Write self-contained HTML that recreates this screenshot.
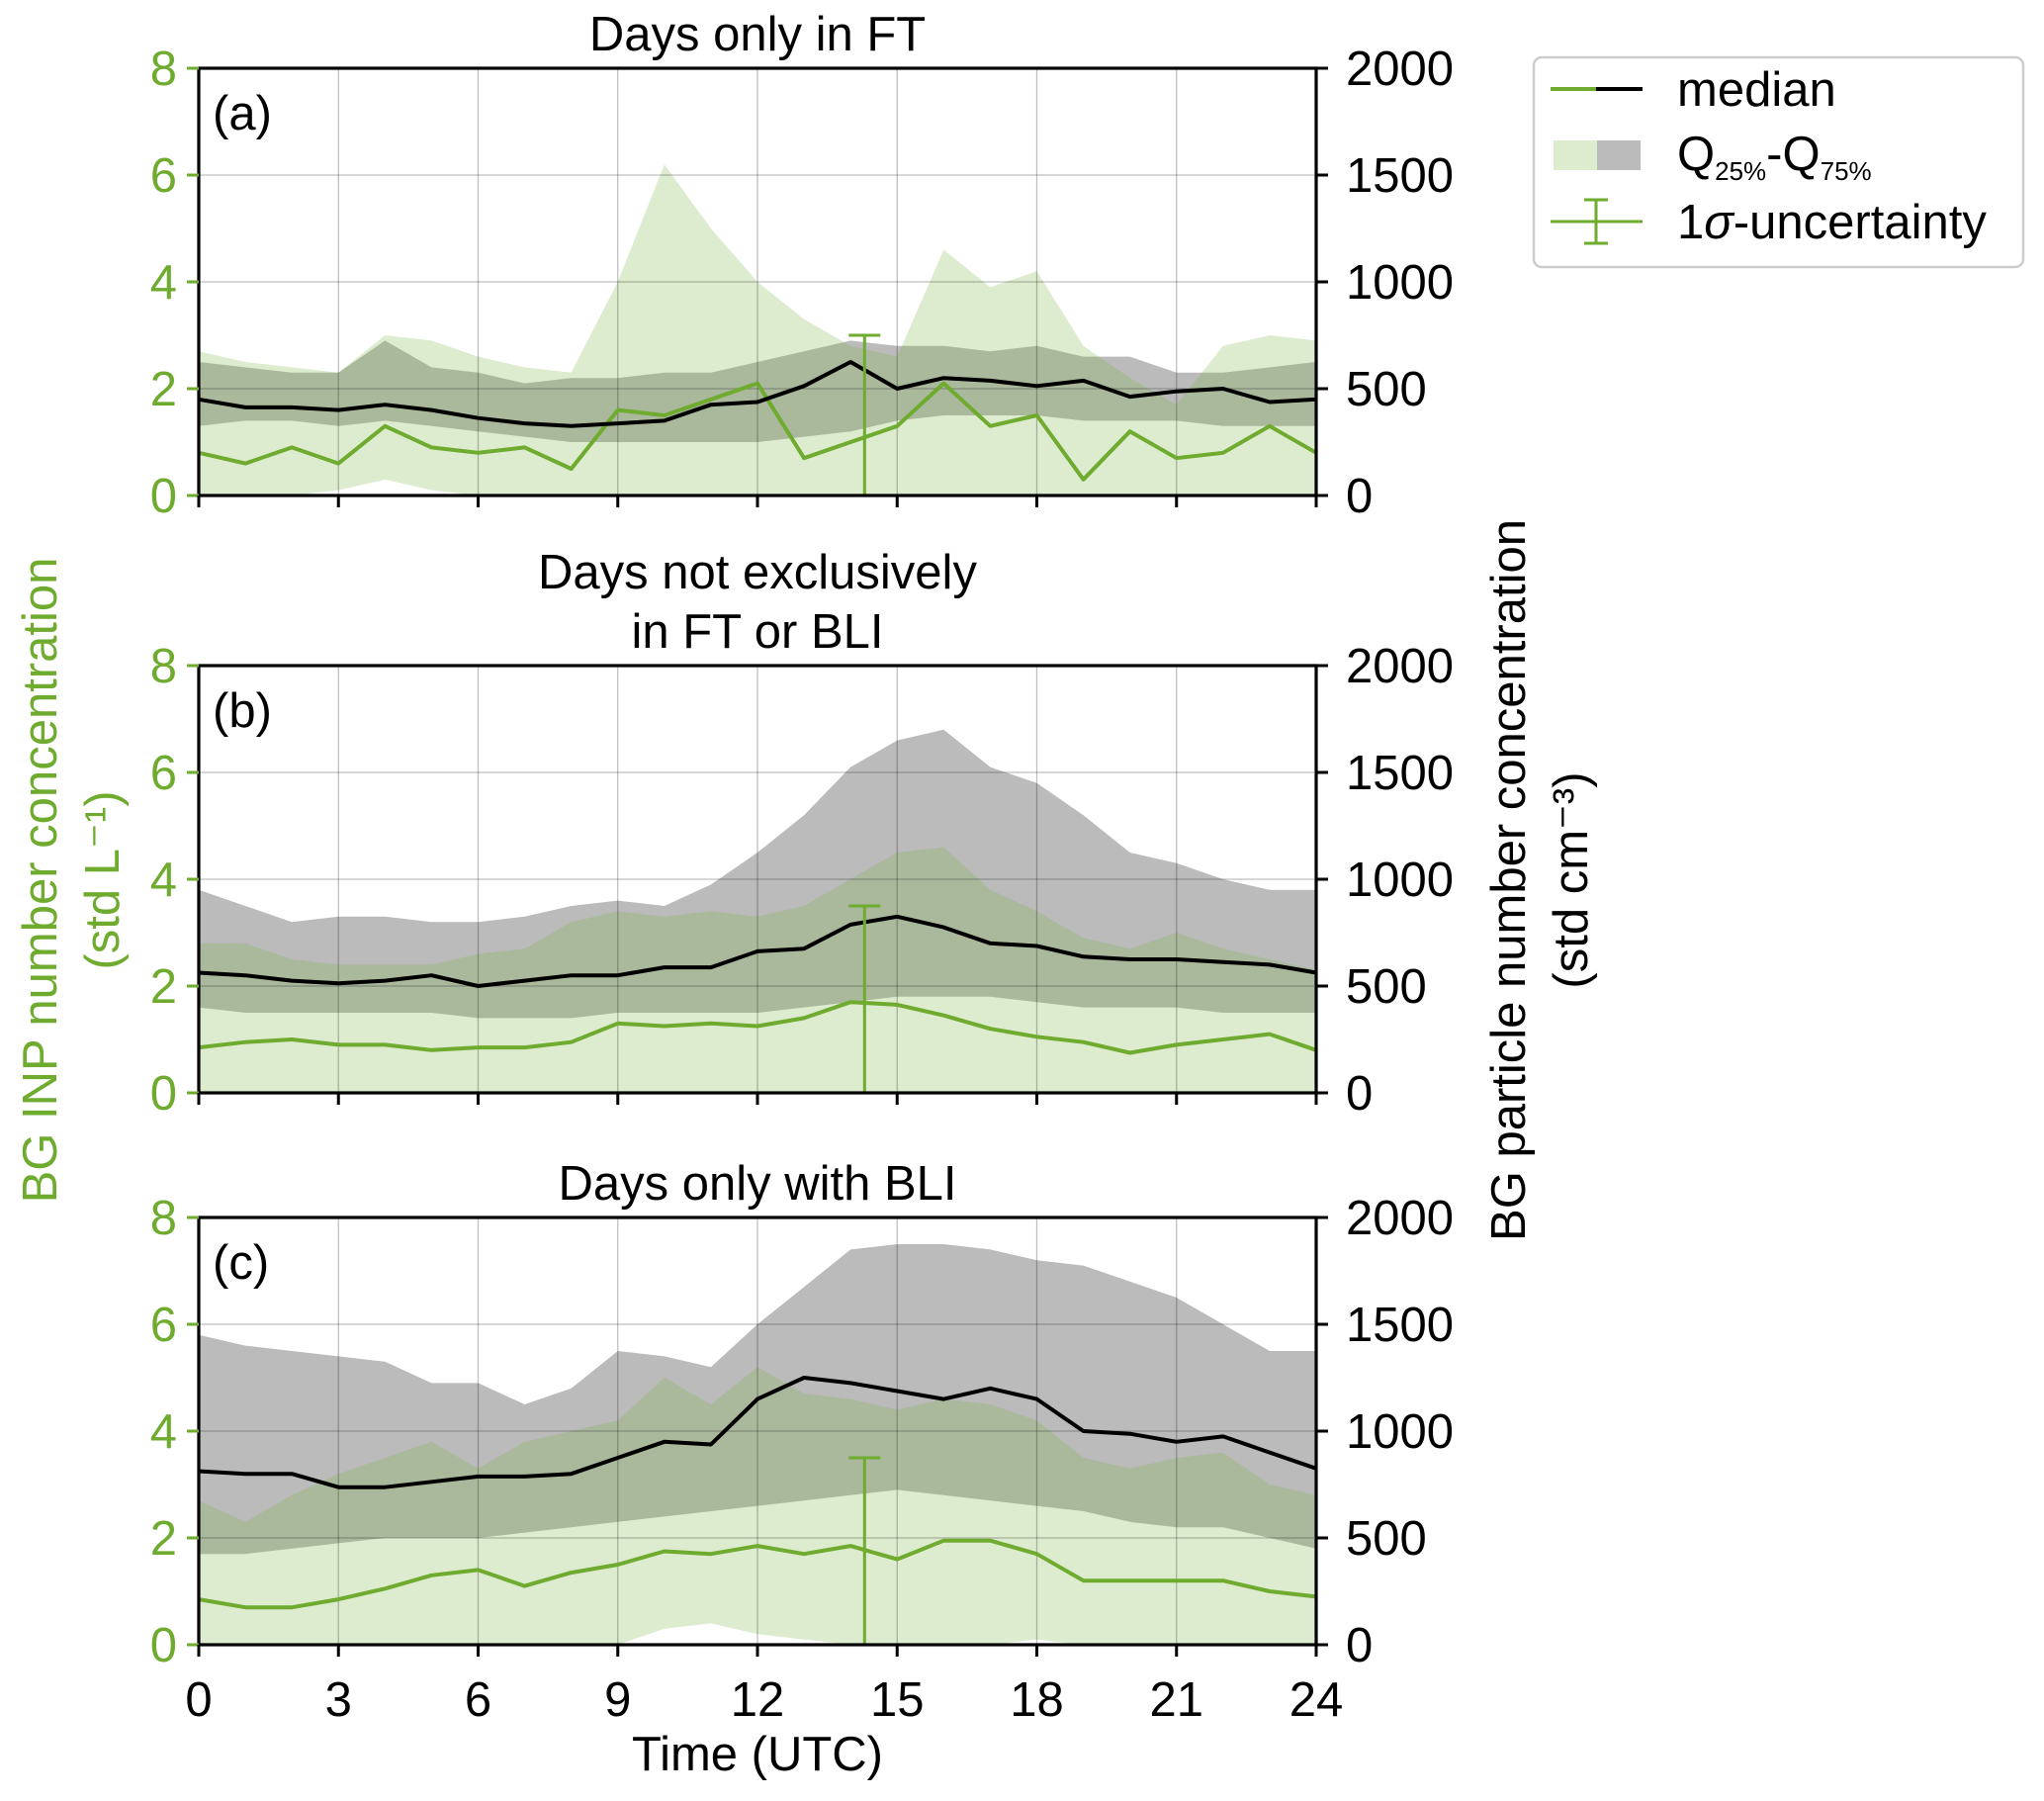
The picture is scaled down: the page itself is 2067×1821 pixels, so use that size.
<!DOCTYPE html>
<html><head><meta charset="utf-8"><style>
body{margin:0;background:#fff;}
svg text{font-family:"Liberation Sans","DejaVu Sans",sans-serif;}
</style></head><body>
<svg id="chart" width="2067" height="1816" viewBox="0 0 2067 1816" xmlns="http://www.w3.org/2000/svg"></svg>
<script>
const hours = [0,1,2,3,4,5,6,7,8,9,10,11,12,13,14,15,16,17,18,19,20,21,22,23,24];
const xTicks = [0,3,6,9,12,15,18,21,24];
const leftTicks = [0,2,4,6,8];
const rightTicks = [0,500,1000,1500,2000];
const titlesA = ["Days only in FT"];
const titlesB = ["Days not exclusively","in FT or BLI"];
const titlesC = ["Days only with BLI"];
const errX = [14.3,14.3,14.3];
const errTop = [3.0,3.5,3.5];
// panel a
const aGrayUp = [2.5,2.4,2.3,2.3,2.9,2.4,2.3,2.1,2.2,2.2,2.3,2.3,2.5,2.7,2.9,2.8,2.8,2.7,2.8,2.6,2.6,2.3,2.3,2.4,2.5];
const aGrayLo = [1.3,1.4,1.4,1.3,1.4,1.3,1.2,1.1,1.0,1.0,1.0,1.0,1.0,1.1,1.2,1.4,1.5,1.5,1.5,1.4,1.4,1.4,1.3,1.3,1.3];
const aGreenUp = [2.7,2.5,2.4,2.3,3.0,2.9,2.6,2.4,2.3,4.0,6.2,5.0,4.0,3.3,2.8,2.6,4.6,3.9,4.2,2.8,2.2,1.7,2.8,3.0,2.9];
const aGreenLo = [0,0,0,0.1,0.3,0.1,0,0,0,0,0,0,0,0,0,0,0,0,0,0,0,0,0,0,0];
const aBlack = [1.8,1.65,1.65,1.6,1.7,1.6,1.45,1.35,1.3,1.35,1.4,1.7,1.75,2.05,2.5,2.0,2.2,2.15,2.05,2.15,1.85,1.95,2.0,1.75,1.8];
const aGreen = [0.8,0.6,0.9,0.6,1.3,0.9,0.8,0.9,0.5,1.6,1.5,1.8,2.1,0.7,1.0,1.3,2.1,1.3,1.5,0.3,1.2,0.7,0.8,1.3,0.8];
// panel b
const bGrayUp = [3.8,3.5,3.2,3.3,3.3,3.2,3.2,3.3,3.5,3.6,3.5,3.9,4.5,5.2,6.1,6.6,6.8,6.1,5.8,5.2,4.5,4.3,4.0,3.8,3.8];
const bGrayLo = [1.6,1.5,1.5,1.5,1.5,1.5,1.4,1.4,1.4,1.5,1.5,1.5,1.5,1.6,1.7,1.8,1.8,1.8,1.7,1.6,1.6,1.6,1.5,1.5,1.5];
const bGreenUp = [2.8,2.8,2.5,2.4,2.4,2.4,2.6,2.7,3.2,3.4,3.3,3.4,3.3,3.5,4.0,4.5,4.6,3.8,3.4,2.9,2.7,3.0,2.7,2.5,2.3];
const bGreenLo = [0,0,0,0,0,0,0,0,0,0,0,0,0,0,0,0,0,0,0,0,0,0,0,0,0];
const bBlack = [2.25,2.2,2.1,2.05,2.1,2.2,2.0,2.1,2.2,2.2,2.35,2.35,2.65,2.7,3.15,3.3,3.1,2.8,2.75,2.55,2.5,2.5,2.45,2.4,2.25];
const bGreen = [0.85,0.95,1.0,0.9,0.9,0.8,0.85,0.85,0.95,1.3,1.25,1.3,1.25,1.4,1.7,1.65,1.45,1.2,1.05,0.95,0.75,0.9,1.0,1.1,0.8];
// panel c
const cGrayUp = [5.8,5.6,5.5,5.4,5.3,4.9,4.9,4.5,4.8,5.5,5.4,5.2,6.0,6.7,7.4,7.5,7.5,7.4,7.2,7.1,6.8,6.5,6.0,5.5,5.5];
const cGrayLo = [1.7,1.7,1.8,1.9,2.0,2.0,2.0,2.1,2.2,2.3,2.4,2.5,2.6,2.7,2.8,2.9,2.8,2.7,2.6,2.5,2.3,2.2,2.2,2.0,1.8];
const cGreenUp = [2.7,2.3,2.8,3.2,3.5,3.8,3.3,3.8,4.0,4.2,5.0,4.5,5.2,4.7,4.6,4.4,4.6,4.5,4.2,3.5,3.3,3.5,3.6,3.0,2.8];
const cGreenLo = [0,0,0,0,0,0,0,0,0,0,0.3,0.4,0.2,0.1,0,0,0,0,0.1,0,0,0,0,0,0];
const cBlack = [3.25,3.2,3.2,2.95,2.95,3.05,3.15,3.15,3.2,3.5,3.8,3.75,4.6,5.0,4.9,4.75,4.6,4.8,4.6,4.0,3.95,3.8,3.9,3.6,3.3];
const cGreen = [0.85,0.7,0.7,0.85,1.05,1.3,1.4,1.1,1.35,1.5,1.75,1.7,1.85,1.7,1.85,1.6,1.95,1.95,1.7,1.2,1.2,1.2,1.2,1.0,0.9];

const svg = document.getElementById('chart');
const NS = 'http://www.w3.org/2000/svg';
const GREEN = '#6eab2e';
function mk(tag, attrs, parent){
  const e = document.createElementNS(NS, tag);
  for (const k in attrs) e.setAttribute(k, attrs[k]);
  (parent||svg).appendChild(e);
  return e;
}
function txt(s, attrs, parent){ const t = mk('text', attrs, parent); t.textContent = s; return t; }

const L = 201, W = 1130, H = 432;
const tops = [69, 673, 1231];
const FS = 49;
const panels = [
  {gu:aGrayUp, gl:aGrayLo, eu:aGreenUp, el:aGreenLo, bk:aBlack, gr:aGreen, lab:'(a)', title:titlesA, name:'panel-a'},
  {gu:bGrayUp, gl:bGrayLo, eu:bGreenUp, el:bGreenLo, bk:bBlack, gr:bGreen, lab:'(b)', title:titlesB, name:'panel-b'},
  {gu:cGrayUp, gl:cGrayLo, eu:cGreenUp, el:cGreenLo, bk:cBlack, gr:cGreen, lab:'(c)', title:titlesC, name:'panel-c'}
];
const xs = h => L + h / 24 * W;

panels.forEach((p, i) => {
  const T = tops[i];
  const ys = v => T + H - v / 8 * H;
  const g = mk('g', {});
  
  
  function band(up, lo, fill, name){
    let d = 'M' + hours.map((h,k)=>xs(h)+','+ys(up[k])).join(' L');
    for (let k = hours.length-1; k >= 0; k--) d += ' L' + xs(hours[k]) + ',' + ys(lo[k]);
    const e = mk('path', {d: d + 'Z', fill: fill}, g);
    
    
  }
  band(p.gu, p.gl, '#bbbbbb', 'particle-iqr-band');
  band(p.eu, p.el, 'rgba(118,176,65,0.25)', 'inp-iqr-band');
  xTicks.forEach(t => { const e = mk('line', {x1:xs(t), x2:xs(t), y1:T, y2:T+H, stroke:'#000', 'stroke-opacity':0.25, 'stroke-width':1.3}, g);
      });
  leftTicks.forEach(t => { const e = mk('line', {x1:L, x2:L+W, y1:ys(t), y2:ys(t), stroke:'#000', 'stroke-opacity':0.25, 'stroke-width':1.3}, g);
      });
  function line(vals, color, name){
    const e = mk('polyline', {points: hours.map((h,k)=>xs(h)+','+ys(vals[k])).join(' '), fill:'none', stroke:color, 'stroke-width':4, 'stroke-linejoin':'round'}, g);
    
    
  }
  line(p.gr, GREEN, 'inp-median-line');
  line(p.bk, '#000', 'particle-median-line');
  const ex = xs(errX[i]);
  const eb = mk('g', {stroke:GREEN, 'stroke-width':3}, g);
  
  
  mk('line', {x1:ex, x2:ex, y1:ys(0), y2:ys(errTop[i])}, eb);
  mk('line', {x1:ex-16, x2:ex+16, y1:ys(errTop[i]), y2:ys(errTop[i])}, eb);
  const fr = mk('rect', {x:L, y:T, width:W, height:H, fill:'none', stroke:'#000', 'stroke-width':3.2}, g);
  
  
  leftTicks.forEach(t => {
    mk('line', {x1:L-12, x2:L, y1:ys(t), y2:ys(t), stroke:GREEN, 'stroke-width':3}, g);
    const e = txt(String(t), {x:L-22, y:ys(t)+17, 'font-size':FS, fill:GREEN, 'text-anchor':'end'}, g);
     
  });
  rightTicks.forEach(t => {
    const yy = ys(t / 250);
    mk('line', {x1:L+W, x2:L+W+12, y1:yy, y2:yy, stroke:'#000', 'stroke-width':3}, g);
    const e = txt(String(t), {x:L+W+30, y:yy+17, 'font-size':FS, fill:'#000'}, g);
     
  });
  xTicks.forEach(t => {
    mk('line', {x1:xs(t), x2:xs(t), y1:T+H, y2:T+H+12, stroke:'#000', 'stroke-width':3}, g);
    if (i === 2) {
      const e = txt(String(t), {x:xs(t), y:T+H+72, 'font-size':FS, 'text-anchor':'middle'}, g);
       
    }
  });
  const lb = txt(p.lab, {x:L+14, y:T+62, 'font-size':FS}, g);
   
  p.title.forEach((s, k) => {
    const n = p.title.length;
    const e = txt(s, {x:L+W/2, y:T - 18 - (n-1-k)*60, 'font-size':FS, 'text-anchor':'middle'}, g);
     
  });
});

const xl = txt('Time (UTC)', {x:L+W/2, y:1790, 'font-size':FS, 'text-anchor':'middle'});
 
const yl = mk('g', {transform:'translate(40,890) rotate(-90)'});
 
txt('BG INP number concentration', {x:0, y:17, 'font-size':FS, fill:GREEN, 'text-anchor':'middle'}, yl);
txt('(std L\u207B\u00B9)', {x:0, y:80, 'font-size':FS, fill:GREEN, 'text-anchor':'middle'}, yl);
const yr = mk('g', {transform:'translate(1525,890) rotate(-90)'});
 
txt('BG particle number concentration', {x:0, y:17, 'font-size':FS, 'text-anchor':'middle'}, yr);
txt('(std cm\u207B\u00B3)', {x:0, y:80, 'font-size':FS, 'text-anchor':'middle'}, yr);

const lg = mk('g', {});
 
mk('rect', {x:1551, y:58, width:495, height:212, rx:8, fill:'#fff', stroke:'#cccccc', 'stroke-width':2.5}, lg);
mk('line', {x1:1568, x2:1614, y1:90, y2:90, stroke:GREEN, 'stroke-width':4}, lg);
mk('line', {x1:1614, x2:1661, y1:90, y2:90, stroke:'#000', 'stroke-width':4}, lg);
const t1 = txt('median', {x:1696, y:107, 'font-size':FS}, lg);
 
mk('rect', {x:1571, y:142, width:44, height:30, fill:'#ddebcf'}, lg);
mk('rect', {x:1615, y:142, width:44, height:30, fill:'#bbbbbb'}, lg);
const t2 = txt('', {x:1696, y:172, 'font-size':FS}, lg);
 
t2.innerHTML = 'Q<tspan font-size="26" dy="10">25%</tspan><tspan dy="-10">-Q</tspan><tspan font-size="26" dy="10">75%</tspan>';
const eg = mk('g', {stroke:GREEN, 'stroke-width':3}, lg);
mk('line', {x1:1568, x2:1661, y1:224, y2:224}, eg);
mk('line', {x1:1614, x2:1614, y1:202, y2:246}, eg);
mk('line', {x1:1602, x2:1626, y1:202, y2:202}, eg);
mk('line', {x1:1602, x2:1626, y1:246, y2:246}, eg);
const t3 = txt('', {x:1696, y:241, 'font-size':FS}, lg);
 
t3.innerHTML = '1<tspan font-style="italic">\u03C3</tspan>-uncertainty';
</script>
</body></html>
